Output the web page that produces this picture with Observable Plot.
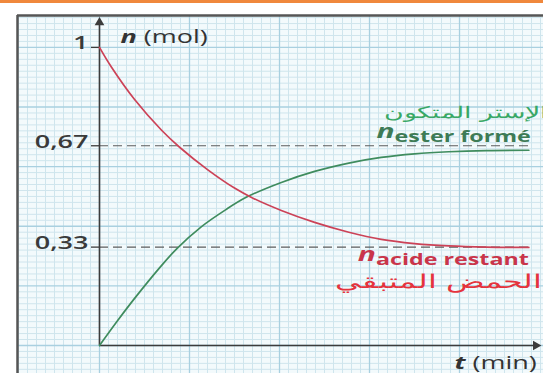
<!DOCTYPE html>
<html><head><meta charset="utf-8">
<script src="https://cdn.jsdelivr.net/npm/d3@7"></script>
<script src="https://cdn.jsdelivr.net/npm/@observablehq/plot@0.6"></script>
<style>
body{margin:0;background:#fff;width:543px;height:373px;overflow:hidden}
#bar{height:3px;background:#f0883c}
#chart svg{display:block}
</style></head><body><div id="bar"></div><div id="chart"></div>
<script>
// ---- data (t in grid units, n in mol) ----
const tAcid  = [0, 0.13, 0.39, 0.69, 0.89, 1.2, 1.5, 1.7, 2.02, 2.39, 2.77, 3.13, 3.5, 3.88, 4.3, 4.77];
const nAcid  = [1, 0.935, 0.825, 0.722, 0.665, 0.59, 0.528, 0.495, 0.453, 0.413, 0.38, 0.356, 0.342, 0.334, 0.33, 0.329];
const tEster = [0, 0.2, 0.39, 0.66, 0.86, 1.13, 1.4, 1.63, 2.02, 2.39, 2.77, 3.13, 3.5, 3.88, 4.3, 4.77];
const nEster = [0, 0.083, 0.158, 0.258, 0.325, 0.398, 0.455, 0.497, 0.547, 0.584, 0.612, 0.631, 0.643, 0.65, 0.654, 0.655];
const yTicks = [1, 0.67, 0.33];
const yTickLabels = ["1", "0,67", "0,33"];
const yLabel = "n|(mol)";
const xLabel = "t|(min)";
const esterLabel = "n|ester formé";
const esterLabelAr = "الإستر المتكون";
const acidLabel = "n|acide restant";
const acidLabelAr = "الحمض المتبقي";

const acid = tAcid.map((t, i) => ({t, n: nAcid[i]}));
const ester = tEster.map((t, i) => ({t, n: nEster[i]}));
const tEnd = tAcid[tAcid.length - 1];

const xDomain = [-0.911, 4.933];
const yDomain = [-0.094, 1.107];
const xTip = 4.87, yTip = 1.09;

const minorX = d3.range(-9, 50).map(i => i / 10).filter(v => Math.abs(v - Math.round(v)) > 1e-6);
const majorX = d3.range(0, 5);
const minorY = d3.range(-4, 56).map(i => i / 50).filter(v => Math.abs(v * 5 - Math.round(v * 5)) > 1e-6);
const majorY = d3.range(0, 6).map(i => i / 5);

const AX = "#3c3c3c";
const chart = Plot.plot({
  width: 543, height: 370,
  marginLeft: 17, marginRight: 0, marginTop: 12, marginBottom: 0,
  x: {domain: xDomain, axis: null},
  y: {domain: yDomain, axis: null},
  style: {fontFamily: "Open Sans", background: "#fff", overflow: "visible"},
  marks: [
    Plot.frame({fill: "#f3fafc", stroke: null}),
    Plot.ruleX(minorX, {stroke: "#cfe5ed", strokeWidth: 1}),
    Plot.ruleY(minorY, {stroke: "#cfe5ed", strokeWidth: 1}),
    Plot.ruleX(majorX, {stroke: "#a9d0e0", strokeWidth: 1.3}),
    Plot.ruleY(majorY, {stroke: "#a9d0e0", strokeWidth: 1.3}),
    Plot.ruleX([xDomain[0]], {stroke: "#555", strokeWidth: 2.5}),
    Plot.ruleY([yDomain[1]], {stroke: "#555", strokeWidth: 2.5}),
    Plot.ruleY(yTicks.slice(1), {x1: 0, x2: tEnd, stroke: "#5c5c5c", strokeWidth: 1.2, strokeDasharray: "9,5"}),
    Plot.ruleY(yTicks, {x1: 0, x2: 0, insetLeft: -8, stroke: AX, strokeWidth: 1.3}),
    Plot.ruleX([0], {y1: 0, y2: yTip, stroke: AX, strokeWidth: 1.6}),
    Plot.ruleY([0], {x1: 0, x2: xTip, stroke: AX, strokeWidth: 1.6}),
    Plot.dot([[0, yTip]], {x: d => d[0], y: d => d[1], symbol: "triangle", r: 3.6, fill: AX, dy: 2}),
    Plot.dot([[xTip, 0]], {x: d => d[0], y: d => d[1], symbol: "triangle", r: 3.6, fill: AX, rotate: 90, dx: -2}),
    Plot.line(ester, {x: "t", y: "n", stroke: "#3f8c5e", strokeWidth: 1.7, curve: "catmull-rom"}),
    Plot.line(acid, {x: "t", y: "n", stroke: "#cc4257", strokeWidth: 1.7, curve: "catmull-rom"}),
    Plot.text(yTicks, {x: 0, y: d => d, text: (d, i) => yTickLabels[i], textAnchor: "end", dx: -11, dy: -4, fontSize: 18, fontWeight: 600, fill: "#3a3a3a"}),
    Plot.text([yLabel], {x: 0, y: yTicks[0], text: d => d, textAnchor: "start", lineAnchor: "bottom", dx: 21, dy: -4, fontSize: 18, fill: "#333"}),
    Plot.text([xLabel], {x: xTip, y: 0, text: d => d, textAnchor: "end", lineAnchor: "bottom", dx: -1, dy: 24, fontSize: 18, fill: "#333"}),
    Plot.text([esterLabelAr], {x: tEnd, y: yTicks[1], text: d => d, textAnchor: "end", lineAnchor: "bottom", dx: 18, dy: -28, fontSize: 16, fontWeight: 300, fontFamily: "DejaVu Sans", fill: "#38a866"}),
    Plot.text([esterLabel], {x: tEnd, y: yTicks[1], text: d => d, textAnchor: "end", lineAnchor: "bottom", dx: 2, dy: -8, fontSize: 20, fill: "#3d7b56"}),
    Plot.text([acidLabel], {x: tEnd, y: yTicks[2], text: d => d, textAnchor: "end", lineAnchor: "bottom", dx: 0, dy: 14, fontSize: 20, fill: "#c9354a"}),
    Plot.text([acidLabelAr], {x: tEnd, y: yTicks[2], text: d => d, textAnchor: "end", lineAnchor: "bottom", dx: 13, dy: 41, fontSize: 18.5, fontWeight: 300, fontFamily: "DejaVu Sans", fill: "#e5333d"})
  ]
});
document.getElementById("chart").appendChild(chart);

// rich text: italic variable + subscript / unit, then horizontal stretch
const arabic = new Set([esterLabelAr, acidLabelAr]);
d3.select(chart).selectAll("text").each(function() {
  const el = this;
  const s = el.textContent;
  const stretch = arabic.has(s) ? 1.68 : 1.5;
  if (s.includes("|")) {
    const [a, b] = s.split("|");
    el.textContent = "";
    const sel = d3.select(el);
    sel.append("tspan").attr("font-style", "italic").attr("font-weight", 700).text(a);
    if (b.startsWith("(")) {
      sel.append("tspan").attr("font-weight", 500).text(" " + b);
    } else {
      sel.append("tspan").attr("font-size", 15.5).attr("font-weight", 700).attr("dy", 4).text(b);
    }
  }
  const w = el.getComputedTextLength();
  if (w > 0) {
    el.setAttribute("textLength", (w * stretch).toFixed(1));
    el.setAttribute("lengthAdjust", "spacingAndGlyphs");
  }
});
</script></body></html>
